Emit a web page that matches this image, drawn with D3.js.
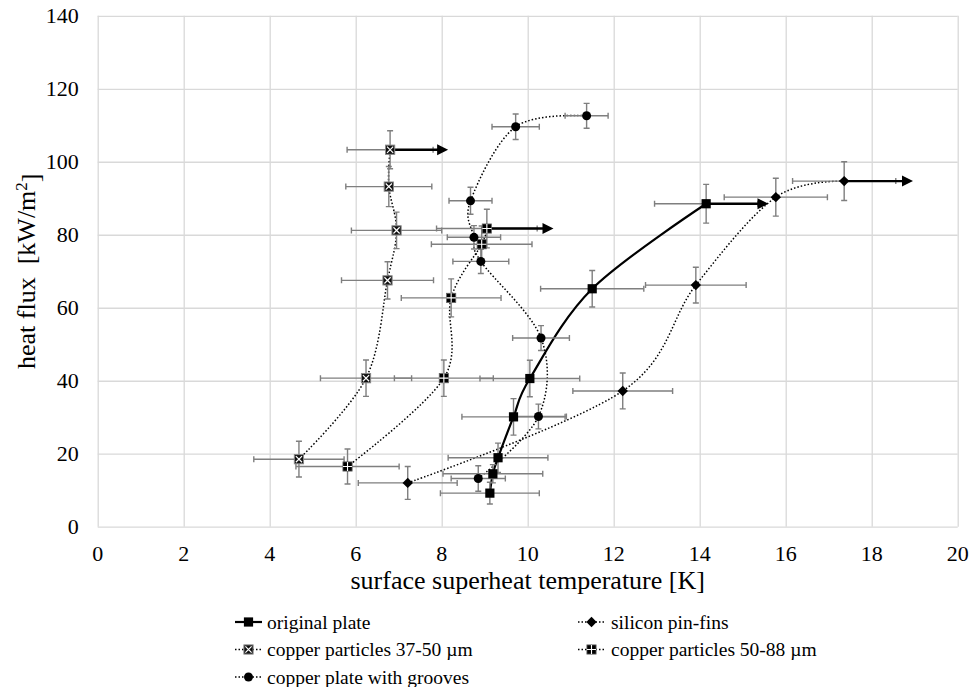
<!DOCTYPE html>
<html><head><meta charset="utf-8">
<script src="https://cdn.jsdelivr.net/npm/d3@7"></script>
<style>
body{margin:0;background:#fff}
svg{display:block}
svg text{font-family:"Liberation Serif","Times New Roman",serif;fill:#000}
</style>
</head><body>
<svg id="c" width="970" height="687"></svg>
<script>
// ---------------- data ----------------
const xTicks = [0, 2, 4, 6, 8, 10, 12, 14, 16, 18, 20];
const yTicks = [0, 20, 40, 60, 80, 100, 120, 140];
const xTitle = "surface superheat temperature [K]";
const yTitle = "heat flux  [kW/m";

const seriesNames = ["original plate", "silicon pin-fins", "copper particles 37-50 µm", "copper particles 50-88 µm", "copper plate with grooves"];

const originalX    = [9.12, 9.19, 9.31, 9.67, 10.05, 11.5, 14.15];
const originalY    = [9.2, 14.5, 18.9, 30.1, 40.6, 65.2, 88.5];
const originalXErr = [1.15, 1.16, 1.16, 1.2, 1.16, 1.2, 1.2];
const originalYErr = [3, 2.5, 4, 5, 5, 5, 5.3];

const siliconX    = [7.21, 12.21, 13.91, 15.77, 17.36];
const siliconY    = [12.0, 37.2, 66.2, 90.3, 94.7];
const siliconXErr = [1.15, 1.16, 1.17, 1.2, 1.2];
const siliconYErr = [4.5, 4.9, 4.9, 5.2, 5.3];

const cu3750X    = [4.68, 6.24, 6.74, 6.95, 6.77, 6.8];
const cu3750Y    = [18.5, 40.7, 67.5, 81.2, 93.2, 103.3];
const cu3750XErr = [1.05, 1.06, 1.07, 1.05, 1.0, 1.0];
const cu3750YErr = [4.9, 5, 5.1, 5, 5.5, 5.2];

const cu5088X    = [5.81, 8.05, 8.22, 8.93, 9.05];
const cu5088Y    = [16.5, 40.7, 62.7, 77.4, 81.7];
const cu5088XErr = [1.2, 1.15, 1.16, 1.17, 1.17];
const cu5088YErr = [4.8, 5, 5.2, 5, 5.3];

const groovesX    = [8.85, 10.25, 10.31, 8.91, 8.75, 8.67, 9.72, 11.37];
const groovesY    = [13.2, 30.2, 51.7, 72.7, 79.3, 89.3, 109.6, 112.6];
const groovesXErr = [0.63, 0.65, 0.66, 0.65, 0.62, 0.5, 0.55, 0.5];
const groovesYErr = [3.5, 3.4, 3.4, 3.3, 3.2, 3.7, 3.5, 3.4];

// arrows (beyond-range markers): start x, end x, y
const arrowX0 = [6.8, 9.05, 14.15, 17.36];
const arrowX1 = [8.15, 10.6, 15.6, 18.96];
const arrowY  = [103.3, 81.7, 88.5, 94.7];

// ---------------- setup ----------------
const series = [
  {name: seriesNames[0], xs: originalX, ys: originalY, xe: originalXErr, ye: originalYErr, marker: "square", solid: true},
  {name: seriesNames[1], xs: siliconX, ys: siliconY, xe: siliconXErr, ye: siliconYErr, marker: "diamond", solid: false},
  {name: seriesNames[2], xs: cu3750X, ys: cu3750Y, xe: cu3750XErr, ye: cu3750YErr, marker: "xsquare", solid: false},
  {name: seriesNames[3], xs: cu5088X, ys: cu5088Y, xe: cu5088XErr, ye: cu5088YErr, marker: "gridsquare", solid: false},
  {name: seriesNames[4], xs: groovesX, ys: groovesY, xe: groovesXErr, ye: groovesYErr, marker: "circle", solid: false}
];

const svg = d3.select("#c");
const L = 97.7, R = 957.7, T = 15.8, B = 526.7;
const x = d3.scaleLinear().domain([0, 20]).range([L, R]);
const y = d3.scaleLinear().domain([0, 140]).range([B, T]);

const gridColor = "#d9d9d9";
const errColor = "#7f7f7f";
const serif = "Liberation Serif";

// gridlines via axes (labels drawn separately)
const gx = svg.append("g").attr("transform", `translate(0,${B})`)
  .call(d3.axisBottom(x).tickValues(xTicks).tickSize(-(B - T)).tickFormat(""));
gx.select(".domain").remove();
gx.selectAll(".tick line").attr("stroke", gridColor).attr("stroke-width", 1.3);

const gy = svg.append("g").attr("transform", `translate(${L},0)`)
  .call(d3.axisLeft(y).tickValues(yTicks).tickSize(-(R - L)).tickFormat(""));
gy.select(".domain").remove();
gy.selectAll(".tick line").attr("stroke", gridColor).attr("stroke-width", 1.3);

// tick labels
svg.append("g").selectAll("text").data(xTicks).join("text")
  .attr("x", d => x(d)).attr("y", B + 34).attr("text-anchor", "middle")
  .attr("font-family", serif).attr("font-size", 22).text(d => d);
svg.append("g").selectAll("text").data(yTicks).join("text")
  .attr("x", L - 19).attr("y", d => y(d) + 7.5).attr("text-anchor", "end")
  .attr("font-family", serif).attr("font-size", 22).text(d => d);

// axis titles
svg.append("text").attr("x", (L + R) / 2).attr("y", 589).attr("text-anchor", "middle")
  .attr("font-family", serif).attr("font-size", 26).text(xTitle);
const yt = svg.append("text").attr("transform", `translate(35,${(T + B) / 2}) rotate(-90)`)
  .attr("text-anchor", "middle").attr("font-family", serif).attr("font-size", 26).style("white-space", "pre");
yt.append("tspan").text(yTitle);
yt.append("tspan").attr("dy", "-0.45em").attr("font-size", 17).text("2");
yt.append("tspan").attr("dy", "0.45em").text("]");

// lines
const line = d3.line().x(d => x(d[0])).y(d => y(d[1])).curve(d3.curveCatmullRom.alpha(0));
const gLines = svg.append("g");
series.forEach(s => {
  const pts = s.xs.map((v, i) => [v, s.ys[i]]);
  gLines.append("path").attr("d", line(pts)).attr("fill", "none").attr("stroke", "#000")
    .attr("stroke-width", s.solid ? 2.2 : 1.5)
    .attr("stroke-dasharray", s.solid ? null : "1.5,2");
});

// error bars
const gErr = svg.append("g").attr("stroke", errColor).attr("stroke-width", 1.4).attr("fill", "none");
const cap = 3;
series.forEach(s => {
  s.xs.forEach((v, i) => {
    const cx = x(v), cy = y(s.ys[i]);
    const x0 = x(v - s.xe[i]), x1 = x(v + s.xe[i]);
    const y0 = y(s.ys[i] - s.ye[i]), y1 = y(s.ys[i] + s.ye[i]);
    gErr.append("path").attr("d",
      `M${x0},${cy}H${x1}M${x0},${cy - cap}V${cy + cap}M${x1},${cy - cap}V${cy + cap}` +
      `M${cx},${y0}V${y1}M${cx - cap},${y0}H${cx + cap}M${cx - cap},${y1}H${cx + cap}`);
  });
});

// arrows
const gArr = svg.append("g");
arrowY.forEach((v, i) => {
  const xa = x(arrowX0[i]), xb = x(arrowX1[i]), ya = y(v);
  const hl = 11, hw = 5.5;
  gArr.append("line").attr("x1", xa).attr("x2", xb - hl + 1).attr("y1", ya).attr("y2", ya)
    .attr("stroke", "#000").attr("stroke-width", 2.4);
  gArr.append("path").attr("d", `M${xb},${ya}L${xb - hl},${ya - hw}L${xb - hl},${ya + hw}Z`).attr("fill", "#000");
});

// markers
function drawMarker(g, type, cx, cy) {
  const h = 4.6;
  if (type === "square") {
    g.append("rect").attr("x", cx - h).attr("y", cy - h).attr("width", 2 * h).attr("height", 2 * h).attr("fill", "#000");
  } else if (type === "diamond") {
    const d = 5.2;
    g.append("path").attr("d", `M${cx},${cy - d}L${cx + d},${cy}L${cx},${cy + d}L${cx - d},${cy}Z`).attr("fill", "#000");
  } else if (type === "circle") {
    g.append("circle").attr("cx", cx).attr("cy", cy).attr("r", 4.5).attr("fill", "#000");
  } else if (type === "xsquare") {
    g.append("rect").attr("x", cx - h).attr("y", cy - h).attr("width", 2 * h).attr("height", 2 * h)
      .attr("fill", "#111").attr("stroke", "#888").attr("stroke-width", 1);
    g.append("path").attr("d", `M${cx - h + 1.5},${cy - h + 1.5}L${cx + h - 1.5},${cy + h - 1.5}M${cx + h - 1.5},${cy - h + 1.5}L${cx - h + 1.5},${cy + h - 1.5}`)
      .attr("stroke", "#fff").attr("stroke-width", 1.2);
  } else if (type === "gridsquare") {
    g.append("rect").attr("x", cx - h).attr("y", cy - h).attr("width", 2 * h).attr("height", 2 * h)
      .attr("fill", "#000").attr("stroke", "#666").attr("stroke-width", 0.8);
    g.append("path").attr("d", `M${cx},${cy - h}V${cy + h}M${cx - h},${cy}H${cx + h}`)
      .attr("stroke", "#fff").attr("stroke-width", 1.1);
  }
}
const gM = svg.append("g");
series.forEach(s => {
  s.xs.forEach((v, i) => drawMarker(gM, s.marker, x(v), y(s.ys[i])));
});

// legend
const legendPos = [
  {lx: 235, tx: 267, cy: 622},
  {lx: 578, tx: 611, cy: 622},
  {lx: 235, tx: 267, cy: 649.5},
  {lx: 578, tx: 611, cy: 649.5},
  {lx: 235, tx: 267, cy: 677}
];
const gL = svg.append("g");
series.forEach((s, i) => {
  const p = legendPos[i];
  const w = 27;
  gL.append("line").attr("x1", p.lx).attr("x2", p.lx + w).attr("y1", p.cy).attr("y2", p.cy)
    .attr("stroke", "#000").attr("stroke-width", s.solid ? 2.2 : 1.5)
    .attr("stroke-dasharray", s.solid ? null : "1.5,2");
  drawMarker(gL, s.marker, p.lx + w / 2, p.cy);
  gL.append("text").attr("x", p.tx).attr("y", p.cy + 6.5).attr("font-family", serif).attr("font-size", 19.5).text(s.name);
});
</script>
</body></html>
